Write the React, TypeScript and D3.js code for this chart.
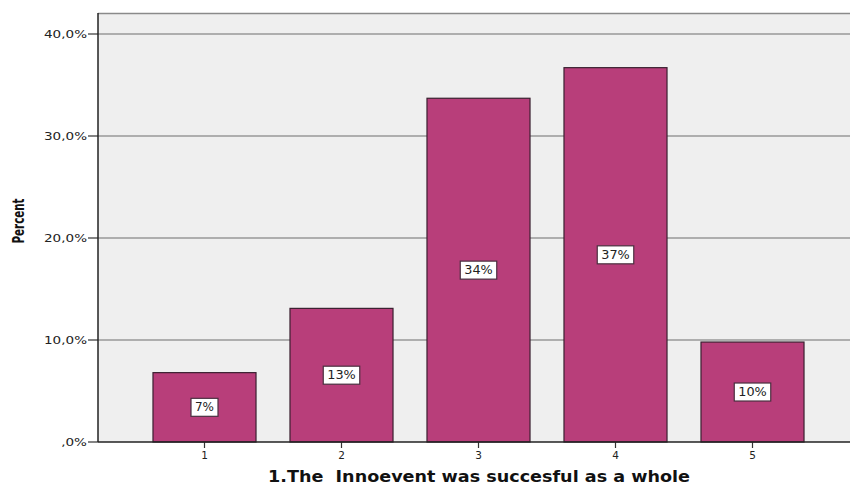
import React from "react";
import * as d3 from "d3";

const categories = ["1", "2", "3", "4", "5"];
const percentValues = [6.8, 13.1, 33.7, 36.7, 9.8];
const barLabels = ["7%", "13%", "34%", "37%", "10%"];
const yTicks = [0, 10, 20, 30, 40];
const yTickLabels = [",0%", "10,0%", "20,0%", "30,0%", "40,0%"];

const W = 850;
const H = 487;
const left = 98;
const top = 13;
const bottom = 442;
const right = 850;

export default function App() {
  const y = d3.scaleLinear().domain([0, 40]).range([bottom, 34]);
  const x = d3.scaleBand<string>().domain(categories).range([136, 821]).paddingInner(0.248).paddingOuter(0.124);
  const font = "DejaVu Sans, Verdana, sans-serif";
  return (
    <svg width={W} height={H} style={{ position: "absolute", left: 0, top: 0 }}>
      <rect x={0} y={0} width={W} height={H} fill="#ffffff" />
      <rect x={left} y={top} width={right - left} height={bottom - top} fill="#efefef" />
      <line x1={left} x2={right} y1={top + 0.5} y2={top + 0.5} stroke="#8a8a8a" strokeWidth={1.5} />
      {yTicks.map((t, i) => (
        <g key={t}>
          {t > 0 && <line x1={left} x2={right} y1={y(t)} y2={y(t)} stroke="#6e6e6e" strokeWidth={1.2} />}
          <line x1={left - 10} x2={left} y1={y(t)} y2={y(t)} stroke="#333" strokeWidth={1.2} />
          <text
            x={left - 11}
            y={y(t)}
            dy="0.35em"
            textAnchor="end"
            fontFamily={font}
            fontSize={11}
            fill="#222"
            textLength={yTickLabels[i].length * 8.6}
            lengthAdjust="spacingAndGlyphs"
          >
            {yTickLabels[i]}
          </text>
        </g>
      ))}
      {categories.map((c, i) => {
        const x0 = x(c)!;
        const bw = x.bandwidth();
        const yv = y(percentValues[i]);
        const cy = (yv + bottom) / 2;
        const tw = barLabels[i].length * 9.5;
        const lw = tw + 8;
        return (
          <g key={c}>
            <rect x={x0} y={yv} width={bw} height={bottom - yv} fill="#b83e7a" stroke="#3a2030" strokeWidth={1.2} />
            <rect x={x0 + bw / 2 - lw / 2} y={cy - 9} width={lw} height={18} fill="#ffffff" stroke="#4a3040" strokeWidth={1.2} />
            <text
              x={x0 + bw / 2}
              y={cy}
              dy="0.36em"
              textAnchor="middle"
              fontFamily={font}
              fontSize={11.5}
              fill="#222"
              textLength={tw}
              lengthAdjust="spacingAndGlyphs"
            >
              {barLabels[i]}
            </text>
            <line x1={x0 + bw / 2} x2={x0 + bw / 2} y1={bottom} y2={bottom + 6} stroke="#333" strokeWidth={1.2} />
            <text x={x0 + bw / 2} y={bottom + 17} textAnchor="middle" fontFamily={font} fontSize={10.5} fill="#222">
              {c}
            </text>
          </g>
        );
      })}
      <line x1={left} x2={left} y1={top} y2={bottom} stroke="#222" strokeWidth={1.5} />
      <line x1={left} x2={right} y1={bottom} y2={bottom} stroke="#222" strokeWidth={1.5} />
      <text
        transform={`translate(24,221) rotate(-90)`}
        textAnchor="middle"
        fontFamily="DejaVu Sans, sans-serif"
        fontWeight="bold"
        fontSize={16}
        fill="#111"
        textLength={45}
        lengthAdjust="spacingAndGlyphs"
      >
        Percent
      </text>
      <text
        x={479}
        y={482}
        textAnchor="middle"
        fontFamily={font}
        fontWeight="bold"
        fontSize={15}
        fill="#111"
        textLength={422}
        lengthAdjust="spacingAndGlyphs"
        style={{ whiteSpace: "pre" }}
      >
        1.The  Innoevent was succesful as a whole
      </text>
    </svg>
  );
}
